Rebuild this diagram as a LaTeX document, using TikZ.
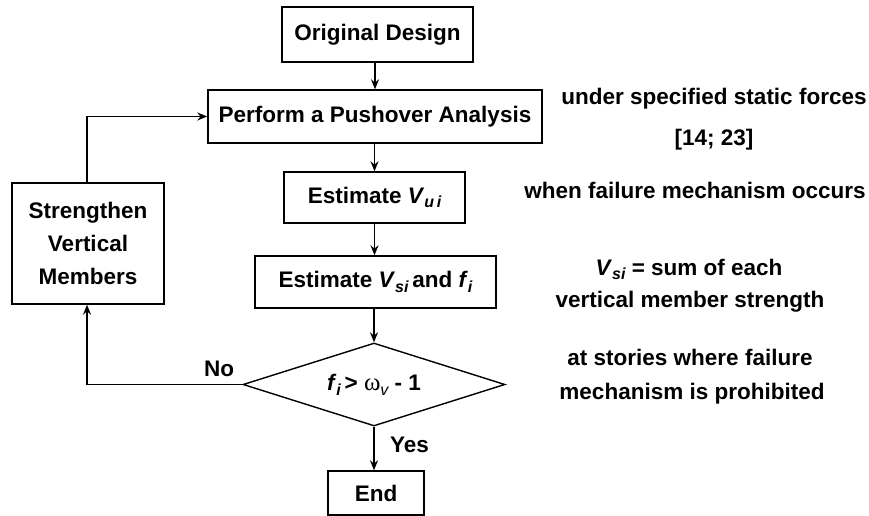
\documentclass[tikz,border=0pt]{standalone}
\usepackage{fontspec}
\setmainfont{Liberation Sans}
\newfontfamily\omegafont{Liberation Serif}
\usetikzlibrary{shapes.geometric,arrows.meta}
\newcommand{\sbs}[1]{\raisebox{-0.4ex}{\fontsize{16}{16}\selectfont\bfseries\itshape #1}}
\newcommand{\sbm}[1]{\raisebox{-0.4ex}{\fontsize{16}{16}\selectfont\mdseries\itshape #1}}
\begin{document}
\begin{tikzpicture}[x=1pt,y=-1pt,
  txt/.style={font=\fontsize{22.5}{33}\selectfont\bfseries, inner sep=0pt, align=center},
  box/.style={txt, draw, line width=1.4pt},
  arr/.style={line width=1.4pt, -{Stealth[length=10pt,width=8pt]}},
  ln/.style={line width=1.4pt}]
\useasboundingbox (0,0) rectangle (869,516);

\node[box, minimum width=191pt, minimum height=55pt] (orig) at (377.5,34.5) {Original Design};
\node[box, minimum width=334pt, minimum height=53pt] (push) at (375,116.5) {Perform a Pushover Analysis};
\node[box, minimum width=181pt, minimum height=51pt] (vui) at (374.5,197.5) {Estimate \textit{V}\sbs{u\,i}};
\node[box, minimum width=241pt, minimum height=52pt] (vsi) at (375.5,282) {Estimate \textit{V}\sbs{si}\,and \textit{f}\sbs{i}};
\node[txt, draw, line width=1.4pt, shape=diamond, aspect=3.16, minimum width=262pt, minimum height=83pt] (dec) at (374,384.5) {\textit{f}\sbs{i}\,> {\omegafont\mdseries\fontsize{25}{25}\selectfont ω}\sbm{v} - 1};
\node[box, minimum width=96pt, minimum height=44pt] (end) at (376,493) {End};
\node[box, minimum width=152pt, minimum height=121pt] (str) at (88,243.5) {Strengthen\\Vertical\\Members};

\node[txt, anchor=base] (r1) at (714,105) {under specified static forces};
\node[txt, anchor=base] (r2) at (714,145) {[14; 23]};
\node[txt, anchor=base] (r3) at (695,198) {when failure mechanism occurs};
\node[txt, anchor=base] (r4) at (689,275) {\textit{V}\sbs{si} = sum of each};
\node[txt, anchor=base] (r5) at (690,307) {vertical member strength};
\node[txt, anchor=base] (r6) at (690,365) {at stories where failure};
\node[txt, anchor=base] (r7) at (692,399) {mechanism is prohibited};

\node[txt] (no) at (219,369) {No};
\node[txt] (yes) at (409.5,444.5) {Yes};

\coordinate (cl) at (87,384.5);
\coordinate (cu) at (87,116.5);

\draw[arr] (orig.south -| push.north) -- (push.north);
\draw[arr] (push.south -| vui.north) -- (vui.north);
\draw[arr] (vui.south) -- (vui.south |- vsi.north);
\draw[arr] (vsi.south -| dec.north) -- (dec.north);
\draw[arr] (dec.south) -- (dec.south |- end.north);
\draw[arr] (dec.west) -- (cl) -- (cl |- str.south);
\draw[arr] (cl |- str.north) -- (cu) -- (push.west);
\end{tikzpicture}
\end{document}
